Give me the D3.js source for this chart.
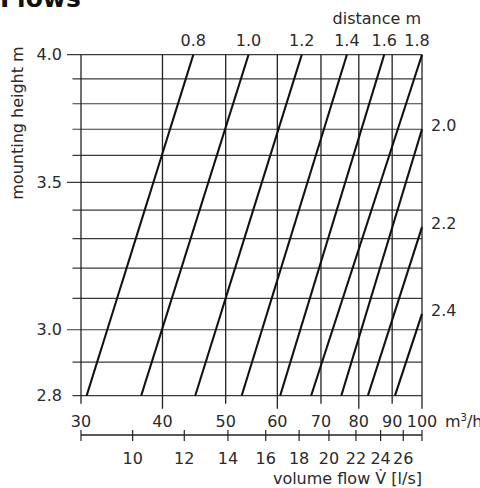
<!DOCTYPE html>
<html>
<head>
<meta charset="utf-8">
<script src="https://cdn.jsdelivr.net/npm/d3@7"></script>
<style>
  body { margin: 0; background: #fff; }
  text { font-family: "DejaVu Sans", sans-serif; fill: #2a2a2a; }
</style>
</head>
<body>
<svg id="chart" width="480" height="488"></svg>
<script>
// distance lines: flow at 2.8 m and end point (top edge or right edge)
var distances = [0.8, 1.0, 1.2, 1.4, 1.6, 1.8, 2.0, 2.2, 2.4];
var startFlow = [30.6, 37.1, 44.9, 52.9, 60.6, 67.6, 75.2, 82.6, 90.9];
var endFlow = [44.6, 54.2, 65.4, 76.7, 87.5, 100, 100, 100, 100];
var endHeight = [4.0, 4.0, 4.0, 4.0, 4.0, 4.0, 3.70, 3.34, 3.05];

var flowTicks = [30, 40, 50, 60, 70, 80, 90, 100];
var flowMajor = [40, 60, 80, 100];
var heightGrid = [2.8, 2.9, 3.0, 3.1, 3.2, 3.3, 3.4, 3.5, 3.6, 3.7, 3.8, 3.9, 4.0];
var heightLabels = [2.8, 3.0, 3.5, 4.0];
var heightLong = [3.0, 3.5, 4.0];
var litreTicks = [10, 12, 14, 16, 18, 20, 22, 24, 26];

var svg = d3.select("svg#chart");

var x = d3.scaleLog().domain([30, 100]).range([81, 422]);
var y = d3.scaleLog().domain([2.8, 4.0]).range([395.7, 54.7]);

var g = svg.append("g");

// title (cut off at the top)
svg.append("text")
    .attr("x", 0).attr("y", 7)
    .style("font-weight", "bold").style("font-size", "25px")
    .style("fill", "#111")
    .text("Flows");

// horizontal grid
g.selectAll(".hgrid")
    .data(heightGrid)
    .enter().append("line")
    .attr("x1", (d) => heightLong.indexOf(d) >= 0 ? x(30) - 14 : x(30) - 8.5)
    .attr("x2", x(100))
    .attr("y1", (d) => y(d)).attr("y2", (d) => y(d))
    .attr("stroke", "#3a3a3a").attr("stroke-width", 1.2);

// vertical grid
g.selectAll(".vgrid")
    .data(flowTicks)
    .enter().append("line")
    .attr("x1", (d) => x(d)).attr("x2", (d) => x(d))
    .attr("y1", y(4.0))
    .attr("y2", (d) => flowMajor.indexOf(d) >= 0 ? y(2.8) + 13 : y(2.8) + 8)
    .attr("stroke", "#222").attr("stroke-width", 1.3);

// distance lines
var clip = svg.append("clipPath").attr("id", "plot")
    .append("rect")
    .attr("x", x(30)).attr("y", y(4.0))
    .attr("width", x(100) - x(30)).attr("height", y(2.8) - y(4.0));

var line = d3.line()
    .x((d) => x(d[0]))
    .y((d) => y(d[1]));

g.selectAll(".dist")
    .data(distances)
    .enter().append("path")
    .attr("d", (d, i) => line([[startFlow[i], 2.8], [endFlow[i], endHeight[i]]]))
    .attr("fill", "none")
    .attr("stroke", "#111")
    .attr("stroke-width", 2.1);

// left labels
g.selectAll(".ylab")
    .data(heightLabels)
    .enter().append("text")
    .attr("x", 62).attr("y", (d) => y(d))
    .attr("dy", "0.36em")
    .attr("text-anchor", "end")
    .style("font-size", "16px")
    .text((d) => d.toFixed(1));

svg.append("text")
    .attr("transform", "translate(23,123) rotate(-90)")
    .attr("text-anchor", "middle")
    .style("font-size", "16px")
    .text("mounting height m");

// top and right distance labels
distances.forEach(function(d, i) {
    if (endHeight[i] >= 4.0) {
        g.append("text")
            .attr("x", Math.min(x(endFlow[i]), 417)).attr("y", 46)
            .attr("text-anchor", "middle")
            .style("font-size", "16px")
            .text(d.toFixed(1));
    } else {
        g.append("text")
            .attr("x", 431).attr("y", y(endHeight[i]) - 4)
            .attr("dy", "0.36em")
            .style("font-size", "16px")
            .text(d.toFixed(1));
    }
});

svg.append("text")
    .attr("x", 421).attr("y", 24)
    .attr("text-anchor", "end")
    .style("font-size", "16px")
    .text("distance m");

// bottom m3/h labels
g.selectAll(".xlab")
    .data(flowTicks)
    .enter().append("text")
    .attr("x", (d) => x(d)).attr("y", 427)
    .attr("text-anchor", "middle")
    .style("font-size", "16px")
    .text((d) => d);

var unit = svg.append("text")
    .attr("x", 445).attr("y", 427)
    .style("font-size", "16px");
unit.append("tspan").text("m");
unit.append("tspan").attr("dy", -6).style("font-size", "10px").text("3");
unit.append("tspan").attr("dy", 6).text("/h");

// secondary l/s axis
var axisY = 435;
g.append("line")
    .attr("x1", x(30)).attr("x2", x(100))
    .attr("y1", axisY).attr("y2", axisY)
    .attr("stroke", "#222").attr("stroke-width", 1.3);

var lsEnds = [30 / 3.6, 100 / 3.6];
g.selectAll(".lstick")
    .data(litreTicks.concat(lsEnds))
    .enter().append("line")
    .attr("x1", (d) => x(d * 3.6)).attr("x2", (d) => x(d * 3.6))
    .attr("y1", axisY - 5).attr("y2", axisY + 6)
    .attr("stroke", "#222").attr("stroke-width", 1.2);

g.selectAll(".lslab")
    .data(litreTicks)
    .enter().append("text")
    .attr("x", (d) => x(d * 3.6)).attr("y", 464)
    .attr("text-anchor", "middle")
    .style("font-size", "16px")
    .text((d) => d);

svg.append("text")
    .attr("x", 422).attr("y", 484)
    .attr("text-anchor", "end")
    .style("font-size", "16px")
    .text("volume flow V\u0307 [l/s]");
</script>
</body>
</html>
